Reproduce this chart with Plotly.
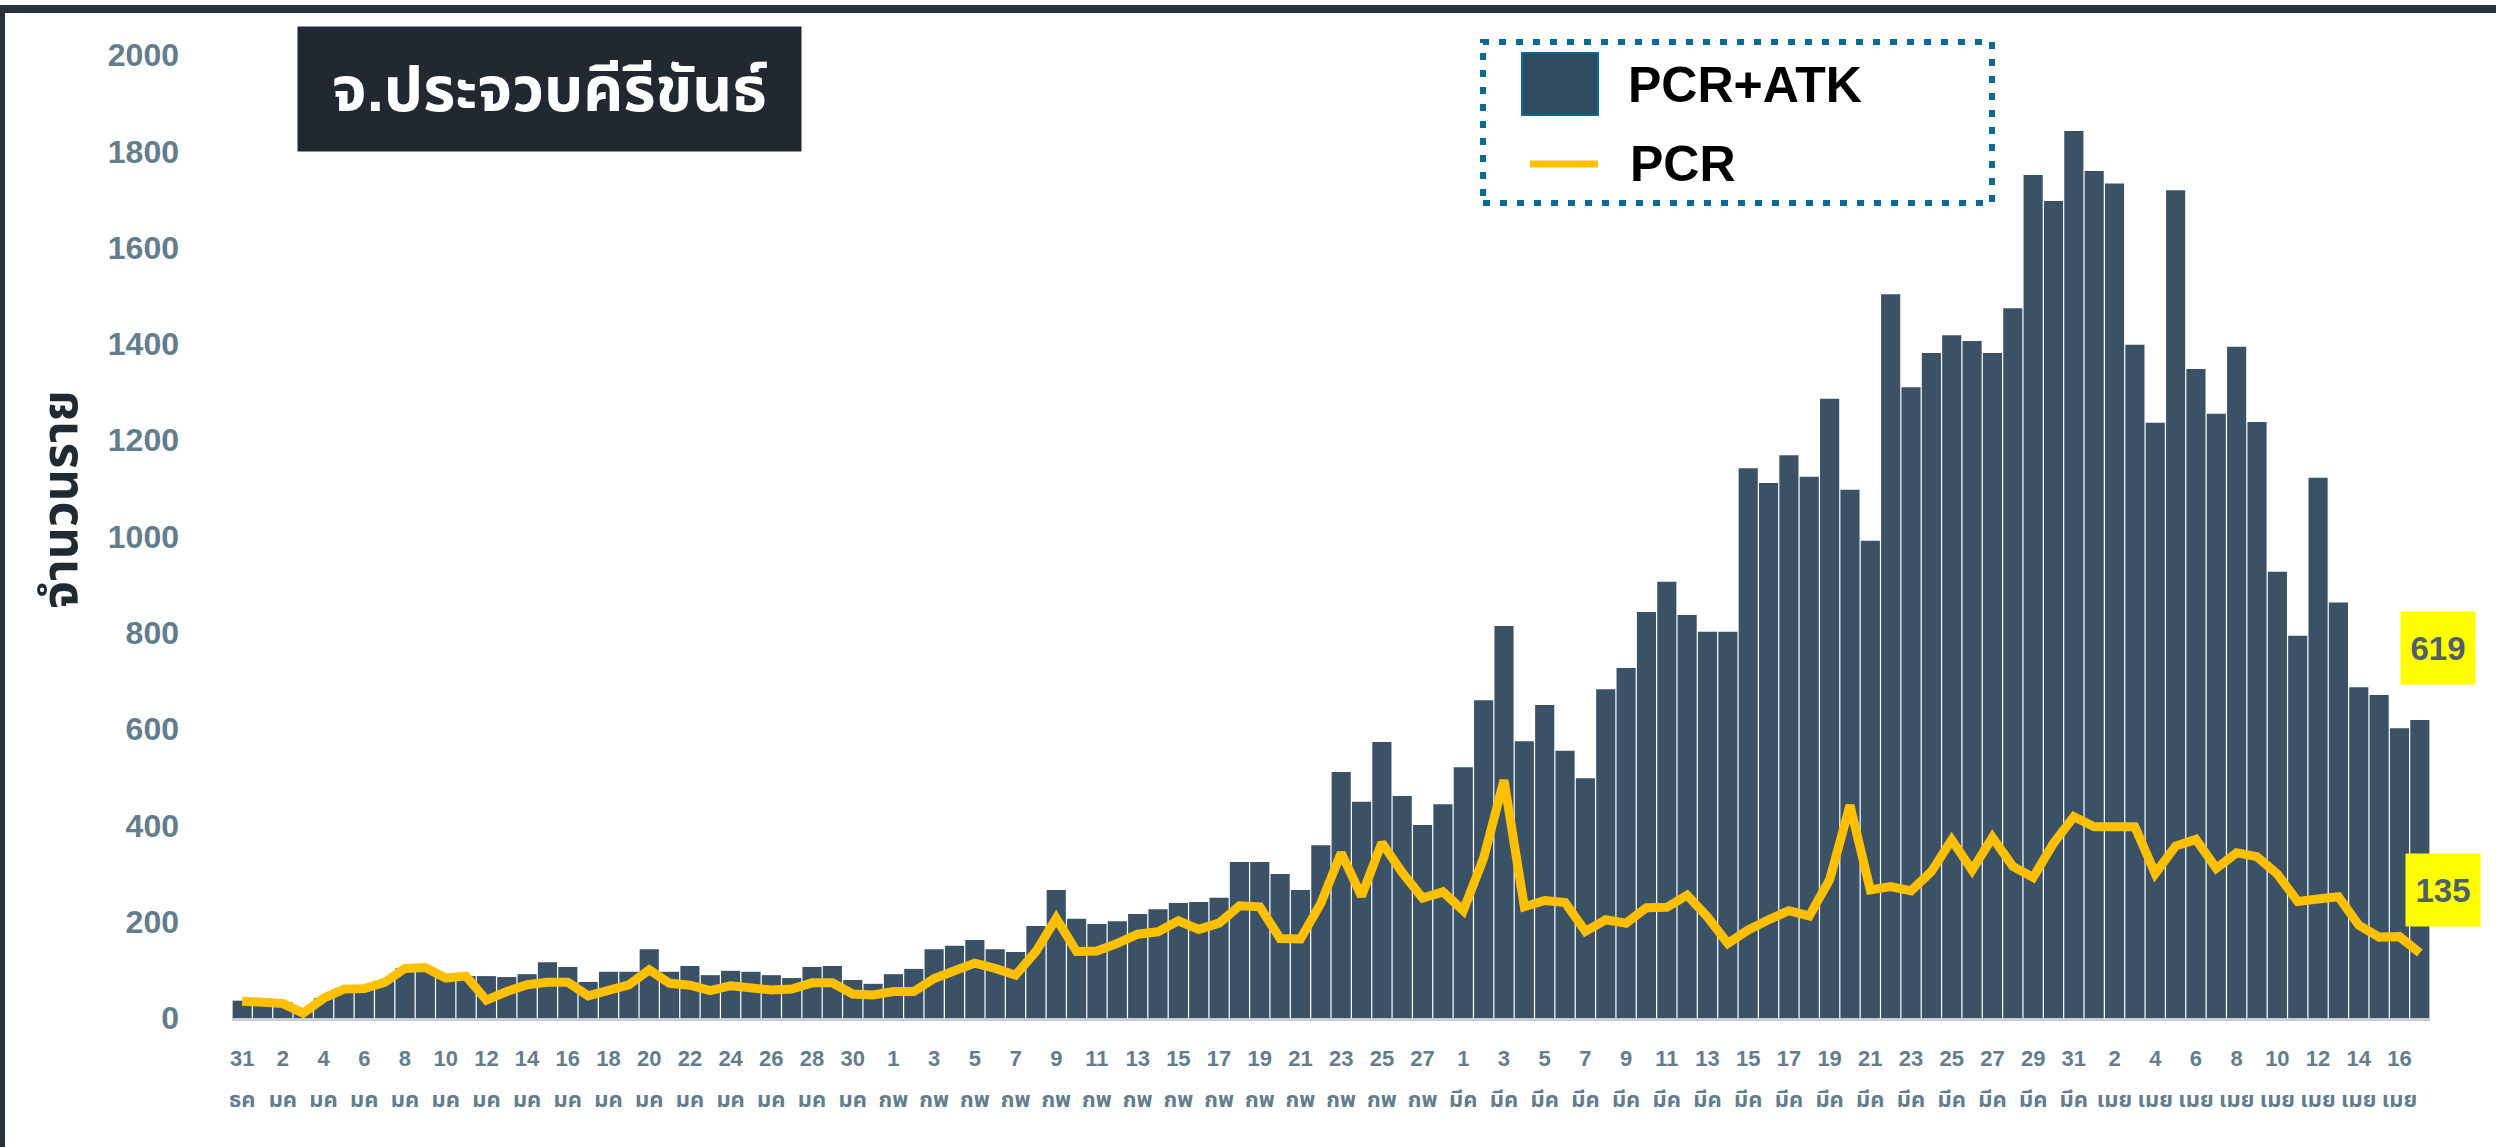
import pandas as pd
import plotly.graph_objects as go

# ---------------- data ----------------
MONTH_TH = {12: "ธค", 1: "มค", 2: "กพ", 3: "มีค", 4: "เมย"}
dates = pd.date_range("2021-12-31", "2022-04-17", freq="D")
categories = [f"{d.day} {MONTH_TH[d.month]}" for d in dates]

tick_cats = categories[::2]
tick_days = [str(d.day) for d in dates][::2]
tick_months = [MONTH_TH[d.month] for d in dates][::2]

total_pcr_atk = [
    36, 35, 33, 13, 41, 62, 64, 75, 103, 104, 86, 87, 87, 85, 91, 116, 106, 75, 96, 96,
    143, 96, 108, 89, 98, 96, 89, 83, 106, 108, 79, 71, 91, 102, 143, 150, 162, 143, 137, 191,
    266, 206, 195, 201, 216, 226, 239, 241, 250, 324, 324, 299, 266, 359, 511, 449, 573, 461, 401, 444,
    521, 660, 814, 575, 650, 555, 498, 683, 727, 843, 906, 837, 802, 802, 1142, 1111, 1169, 1124, 1286, 1097,
    991, 1503, 1310, 1381, 1418, 1406, 1381, 1474, 1751, 1697, 1842, 1759, 1733, 1398, 1236, 1719, 1348, 1255, 1394, 1238,
    927, 794, 1122, 863, 687, 671, 602, 619,
]
pcr = [
    35, 33, 30, 10, 41, 60, 61, 74, 103, 105, 83, 87, 37, 55, 69, 74, 74, 46, 58, 69,
    100, 72, 68, 57, 67, 63, 58, 60, 73, 73, 50, 48, 55, 55, 82, 98, 114, 103, 89, 138,
    207, 138, 139, 155, 174, 179, 202, 184, 197, 233, 231, 165, 164, 238, 343, 253, 364, 302, 249, 262,
    223, 332, 494, 231, 244, 240, 180, 204, 197, 229, 230, 255, 210, 155, 183, 204, 223, 212, 287, 442,
    266, 273, 264, 304, 370, 307, 375, 315, 292, 363, 418, 397, 397, 397, 300, 357, 371, 311, 343, 335,
    299, 242, 247, 252, 193, 168, 169, 135,
]
y_ticks = list(range(0, 2001, 200))

# ---------------- layout geometry ----------------
W, H = 2496, 1147
ML, MR, MT, MB = 232, 66, 55, 129
PW, PH = W - ML - MR, H - MT - MB


def px(x):
    return (x - ML) / PW


def py(y):
    return (H - MB - y) / PH


FONT = "Liberation Sans, Noto Sans Thai, Noto Sans, DejaVu Sans, sans-serif"
TICK_COLOR = "#647d8c"
BAR_COLOR = "#3b5166"
LINE_COLOR = "#FFC000"
DOT_COLOR = "#0a6a91"

fig = go.Figure()
fig.add_trace(go.Bar(
    x=categories, y=total_pcr_atk, name="PCR+ATK",
    marker=dict(color=BAR_COLOR, line=dict(width=0)),
    showlegend=False,
))
fig.add_trace(go.Scatter(
    x=categories, y=pcr, name="PCR", mode="lines",
    line=dict(color=LINE_COLOR, width=9),
    showlegend=False,
))

ticktext = [
    f"<span style='font-size:22px'>{d}</span><br><span style='font-size:22px'>{m}</span>"
    for d, m in zip(tick_days, tick_months)
]

fig.update_layout(
    width=W, height=H,
    margin=dict(l=ML, r=MR, t=MT, b=MB, pad=0),
    paper_bgcolor="white", plot_bgcolor="white",
    bargap=0.06,
    font=dict(family=FONT),
    xaxis=dict(
        type="category", tickmode="array", tickvals=tick_cats, ticktext=ticktext,
        tickangle=0, tickfont=dict(size=31, color=TICK_COLOR, weight="bold"),
        showgrid=False, showline=True, linecolor="#c9cdd1", linewidth=3,
        ticks="", ticklabelstandoff=8, range=[-0.5, len(categories) - 0.5],
    ),
    yaxis=dict(
        range=[0, 2000], tickmode="array", tickvals=y_ticks,
        tickfont=dict(size=32, color=TICK_COLOR, weight="bold"),
        showgrid=False, zeroline=False, showline=False, ticks="",
        ticklabelstandoff=52,
    ),
)

shapes = [
    # page frame (left and top dark bands)
    dict(type="rect", xref="paper", yref="paper", x0=px(0), x1=px(5), y0=py(H), y1=py(5),
         fillcolor="#27333b", line=dict(width=0), layer="above"),
    dict(type="rect", xref="paper", yref="paper", x0=px(0), x1=px(W), y0=py(13), y1=py(5),
         fillcolor="#27333b", line=dict(width=0), layer="above"),
    # legend frame
    dict(type="rect", xref="paper", yref="paper", x0=px(1483), x1=px(1992), y0=py(203), y1=py(42),
         line=dict(color=DOT_COLOR, width=6, dash="7px,10px"), fillcolor="rgba(0,0,0,0)"),
    dict(type="rect", xref="paper", yref="paper", x0=px(1522), x1=px(1598), y0=py(115), y1=py(53),
         fillcolor="#2e4a5e", line=dict(color=DOT_COLOR, width=2)),
    dict(type="line", xref="paper", yref="paper", x0=px(1530), x1=px(1598), y0=py(164), y1=py(164),
         line=dict(color=LINE_COLOR, width=7)),
]

annotations = [
    # y-axis title
    dict(xref="paper", yref="paper", x=px(60), y=py(500), xanchor="center", yanchor="middle",
         text="<b>จำนวนราย</b>", textangle=-90, showarrow=False,
         font=dict(size=50, color="#1f2a33", family=FONT)),
    # chart title box
    dict(xref="paper", yref="paper", x=px(549.5), y=py(89), xanchor="center", yanchor="middle",
         text="<b>จ.ประจวบคีรีขันธ์</b>", showarrow=False, bgcolor="#22282f",
         width=503, height=124, borderpad=0, font=dict(size=62, color="white", family=FONT)),
    # legend labels
    dict(xref="paper", yref="paper", x=px(1626), y=py(85), xanchor="left", yanchor="middle",
         text="<b>PCR+ATK</b>", showarrow=False, font=dict(size=50, color="black", family=FONT)),
    dict(xref="paper", yref="paper", x=px(1628), y=py(164), xanchor="left", yanchor="middle",
         text="<b>PCR</b>", showarrow=False, font=dict(size=50, color="black", family=FONT)),
    # last-value labels
    dict(x=categories[-1], y=total_pcr_atk[-1], text=f"<b>{total_pcr_atk[-1]}</b>", showarrow=False,
         xshift=18, yshift=72, bgcolor="#FFFF00", width=74, height=72, borderpad=0,
         font=dict(size=33, color="#4f5f6c", family=FONT)),
    dict(x=categories[-1], y=pcr[-1], text=f"<b>{pcr[-1]}</b>", showarrow=False,
         xshift=23, yshift=63, bgcolor="#FFFF00", width=74, height=72, borderpad=0,
         font=dict(size=33, color="#4f5f6c", family=FONT)),
]

fig.update_layout(shapes=shapes, annotations=annotations)
fig.write_html(
    "out.html",
    config={"displayModeBar": False},
    post_script="document.body.style.margin='0';document.body.style.overflow='hidden';",
)
